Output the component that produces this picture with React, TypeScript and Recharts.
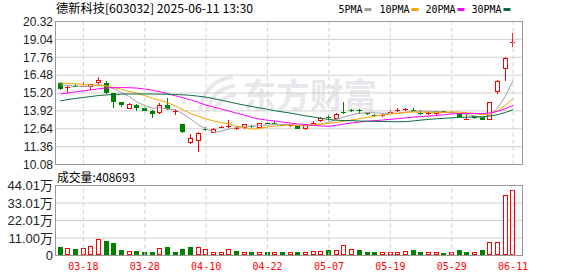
import React from 'react';
import { ComposedChart, Bar, Line, XAxis, YAxis, CartesianGrid, ReferenceLine } from 'recharts';

const dates = [
  '03-13', '03-14', '03-17', '03-18', '03-19', '03-20', '03-21', '03-24', '03-25', '03-26',
  '03-27', '03-28', '03-31', '04-01', '04-02', '04-03', '04-07', '04-08', '04-09', '04-10',
  '04-11', '04-14', '04-15', '04-16', '04-17', '04-18', '04-21', '04-22', '04-23', '04-24',
  '04-25', '04-28', '04-29', '04-30', '05-06', '05-07', '05-08', '05-09', '05-12', '05-13',
  '05-14', '05-15', '05-16', '05-19', '05-20', '05-21', '05-22', '05-23', '05-26', '05-27',
  '05-28', '05-29', '05-30', '06-03', '06-04', '06-05', '06-06', '06-09', '06-10', '06-11',
];

const opens = [
  15.95, 15.55, 15.7, 15.66, 15.62, 15.91, 15.95, 15.19, 14.55, 14.07,
  14.37, 14.14, 13.92, 13.78, 14.35, 13.85, 12.99, 11.61, 11.77, 12.63,
  12.33, 12.74, 12.76, 12.64, 12.66, 12.84, 12.68, 13.08, 13.06, 12.93,
  12.84, 12.87, 12.61, 12.98, 13.16, 13.47, 13.35, 13.86, 13.96, 13.95,
  13.74, 13.62, 13.6, 13.8, 13.94, 14.02, 14.0, 13.78, 13.69, 13.68,
  13.9, 13.78, 13.78, 13.33, 13.52, 13.47, 13.28, 15.3, 16.95, 18.82,
];
const highs = [
  16.02, 15.68, 15.84, 16.02, 15.88, 16.34, 16.05, 15.22, 14.58, 14.5,
  14.42, 14.18, 13.95, 14.48, 14.85, 14.07, 13.0, 12.28, 12.4, 12.75,
  12.66, 12.84, 13.28, 12.85, 13.0, 12.92, 13.08, 13.14, 13.16, 12.98,
  12.92, 12.9, 13.0, 13.2, 13.46, 13.64, 13.78, 14.58, 14.06, 14.08,
  13.8, 13.7, 13.79, 14.0, 14.1, 14.15, 14.12, 13.95, 13.82, 13.92,
  13.94, 13.9, 13.8, 13.7, 13.55, 13.5, 14.59, 16.1, 17.75, 19.49,
];
const lows = [
  15.4, 15.18, 15.62, 15.62, 15.42, 15.86, 15.12, 14.12, 14.22, 14.05,
  13.94, 13.92, 13.44, 13.72, 14.0, 13.66, 12.35, 11.58, 10.96, 12.48,
  12.3, 12.7, 12.72, 12.58, 12.64, 12.72, 12.66, 12.98, 12.95, 12.82,
  12.78, 12.6, 12.58, 12.95, 13.12, 13.22, 13.33, 13.68, 13.86, 13.7,
  13.6, 13.55, 13.5, 13.7, 13.82, 13.9, 13.82, 13.6, 13.64, 13.56,
  13.76, 13.74, 13.45, 13.31, 13.35, 13.24, 13.26, 15.12, 16.09, 18.49,
];
const closes = [
  15.5, 15.66, 15.64, 15.72, 15.86, 16.14, 15.22, 14.59, 14.33, 14.43,
  14.16, 13.94, 13.73, 14.37, 14.04, 13.89, 12.4, 11.97, 12.3, 12.6,
  12.63, 12.78, 12.86, 12.72, 12.97, 12.8, 13.04, 13.0, 13.02, 12.86,
  12.88, 12.63, 12.97, 13.04, 13.44, 13.43, 13.73, 13.74, 13.93, 13.92,
  13.7, 13.59, 13.63, 13.84, 13.98, 14.05, 13.97, 13.72, 13.74, 13.9,
  13.78, 13.81, 13.47, 13.36, 13.39, 13.26, 14.57, 16.07, 17.72, 18.86,
];

const ma5 = [
  15.78, 15.74, 15.7, 15.68, 15.68, 15.8, 15.72, 15.51, 15.23, 14.94,
  14.55, 14.29, 14.12, 14.13, 14.05, 13.99, 13.69, 13.33, 12.92, 12.63,
  12.38, 12.46, 12.63, 12.72, 12.79, 12.83, 12.88, 12.91, 12.97, 12.94,
  12.96, 12.88, 12.87, 12.88, 12.99, 13.1, 13.32, 13.48, 13.65, 13.75,
  13.8, 13.78, 13.75, 13.74, 13.75, 13.82, 13.89, 13.91, 13.89, 13.88,
  13.82, 13.79, 13.74, 13.66, 13.56, 13.46, 13.61, 14.13, 15.0, 16.1,
];
const ma10 = [
  15.92, 15.9, 15.86, 15.82, 15.78, 15.74, 15.7, 15.6, 15.46, 15.31,
  15.18, 15.01, 14.82, 14.68, 14.5, 14.27, 13.99, 13.73, 13.53, 13.34,
  13.19, 13.08, 12.98, 12.82, 12.71, 12.61, 12.67, 12.77, 12.85, 12.87,
  12.9, 12.88, 12.89, 12.93, 12.97, 13.03, 13.1, 13.18, 13.27, 13.37,
  13.45, 13.55, 13.62, 13.7, 13.75, 13.81, 13.84, 13.83, 13.82, 13.81,
  13.82, 13.84, 13.83, 13.78, 13.72, 13.64, 13.7, 13.94, 14.33, 14.83,
];
const ma20 = [
  15.14, 15.2, 15.28, 15.35, 15.43, 15.5, 15.56, 15.58, 15.59, 15.58,
  15.55, 15.48, 15.4, 15.28, 15.15, 15.0, 14.85, 14.7, 14.52, 14.33,
  14.19, 14.05, 13.9, 13.75, 13.61, 13.44, 13.33, 13.25, 13.19, 13.11,
  13.05, 12.98, 12.94, 12.88, 12.84, 12.82, 12.89, 12.98, 13.06, 13.12,
  13.18, 13.22, 13.26, 13.32, 13.36, 13.42, 13.47, 13.51, 13.55, 13.59,
  13.64, 13.7, 13.73, 13.74, 13.74, 13.73, 13.77, 13.89, 14.08, 14.32,
];
const ma30 = [
  14.64, 14.73, 14.81, 14.88, 14.95, 15.02, 15.06, 15.1, 15.12, 15.13,
  15.13, 15.13, 15.13, 15.12, 15.11, 15.09, 15.07, 15.03, 14.97, 14.9,
  14.8, 14.68, 14.56, 14.44, 14.33, 14.23, 14.13, 14.03, 13.93, 13.84,
  13.76, 13.66, 13.56, 13.48, 13.39, 13.3, 13.25, 13.23, 13.22, 13.19,
  13.18, 13.17, 13.16, 13.15, 13.14, 13.15, 13.2, 13.26, 13.31, 13.35,
  13.39, 13.42, 13.45, 13.47, 13.48, 13.49, 13.55, 13.65, 13.81, 14.0,
];

const volumes = [
  51000, 49000, 38000, 49000, 61000, 106000, 89000, 78000, 32000, 30000,
  30000, 25000, 25000, 49000, 51000, 25000, 44000, 51000, 55000, 42000,
  25000, 25000, 42000, 30000, 23000, 19000, 23000, 19000, 23000, 25000,
  19000, 19000, 25000, 30000, 30000, 32000, 36000, 68000, 42000, 32000,
  25000, 19000, 19000, 19000, 23000, 30000, 32000, 25000, 19000, 19000,
  13000, 19000, 32000, 19000, 19000, 32000, 87000, 87000, 381000, 408693,
];

const priceTicks = [10.08, 11.36, 12.64, 13.92, 15.2, 16.48, 17.76, 19.04, 20.32];
const volTicks = [0, 110025, 220050, 330075, 440100];
const volTickLabels = ['0', '11.00万', '22.01万', '33.01万', '44.01万'];
const dateTicks = ['03-18', '03-28', '04-10', '04-22', '05-07', '05-19', '05-29', '06-11'];

const series = [
  { key: 'ma5', name: '5PMA', color: '#a0a0a0' },
  { key: 'ma10', name: '10PMA', color: '#f5a300' },
  { key: 'ma20', name: '20PMA', color: '#ff00ff' },
  { key: 'ma30', name: '30PMA', color: '#0a6e3c' },
];
const legendX = [338.5, 379.5, 425.5, 471.5];

const RED = '#ff0000';
const GREEN = '#008000';
const GRID = '#d0d0d0';
const CJK = '"Noto Sans CJK SC", sans-serif';
const MONO = '"DejaVu Sans Mono", monospace';

const rows = dates.map((date, i) => ({
  date,
  open: opens[i],
  high: highs[i],
  low: lows[i],
  close: closes[i],
  range: [lows[i], highs[i]],
  ma5: ma5[i],
  ma10: ma10[i],
  ma20: ma20[i],
  ma30: ma30[i],
  vol: volumes[i],
  volUp: i === 0 ? closes[i] >= opens[i] : closes[i] >= closes[i - 1],
}));

function Candle(props: any) {
  const { x, y, width, height, payload } = props;
  if (!payload) return null;
  const top = height >= 0 ? y : y + height;
  const h = Math.abs(height);
  const { open, high, low, close } = payload;
  const span = high - low || 1;
  const py = (p: number) => top + ((high - p) / span) * h;
  const cx = Math.floor(x + width / 2) + 0.5;
  const up = close >= open;
  const color = up ? RED : GREEN;
  const y1 = Math.round(py(Math.max(open, close)));
  const y2 = Math.round(py(Math.min(open, close)));
  let body;
  if (y2 - y1 < 2) {
    body = <line x1={cx - 2.5} x2={cx + 2.5} y1={y1 + 0.5} y2={y1 + 0.5} stroke={color} />;
  } else if (up) {
    body = <rect x={cx - 2} y={y1 + 0.5} width={4} height={y2 - y1 - 1} fill="#fff" stroke={color} />;
  } else {
    body = <rect x={cx - 2.5} y={y1} width={5} height={y2 - y1} fill={color} />;
  }
  return (
    <g>
      <line x1={cx} x2={cx} y1={Math.round(top)} y2={Math.round(top + h)} stroke={color} />
      {body}
    </g>
  );
}

function VolBar(props: any) {
  const { x, y, width, height, payload } = props;
  if (!payload) return null;
  const cx = Math.floor(x + width / 2) + 0.5;
  const top = Math.round(y);
  const bottom = Math.floor(y + height);
  if (bottom - top < 1) return null;
  if (payload.volUp) {
    return <rect x={cx - 2} y={top + 0.5} width={4} height={Math.max(bottom - top - 1, 0)} fill="#fff" stroke={RED} />;
  }
  return <rect x={cx - 2.5} y={top} width={5} height={bottom - top} fill={GREEN} />;
}

function DateTick(props: any) {
  const { x, y, payload } = props;
  return (
    <text x={x} y={y + 6} textAnchor="middle" fill={RED} fontFamily={MONO} fontSize={10}>
      {payload.value}
    </text>
  );
}

const xPad = { left: 0.5, right: 5 };

export default function App() {
  return (
    <div style={{ position: 'absolute', left: 0, top: 0, width: 578, height: 276, background: '#fff' }}>
      <svg width={578} height={276} style={{ position: 'absolute', left: 0, top: 0 }}>
        <g fill="none" stroke="#e8e8ec" strokeWidth={4}>
          <path d="M200 110 Q205 80 233 77" />
          <path d="M207 111 Q213 88 235 86" />
          <path d="M214 111 Q220 96 236 95" />
        </g>
        <text x={243} y={108} fontSize={34} fontWeight={700} fill="#e8e8ec" fontFamily={CJK} textLength={134} lengthAdjust="spacingAndGlyphs">
          东方财富
        </text>
      </svg>

      <div style={{ position: 'absolute', left: 0, top: 0 }}>
        <ComposedChart width={578} height={171} data={rows} margin={{ top: 21.5, right: 56, bottom: 6.5, left: 0 }}>
          <CartesianGrid vertical={false} stroke={GRID} />
          <XAxis dataKey="date" hide padding={xPad} />
          <YAxis
            domain={[10.08, 20.32]}
            ticks={priceTicks}
            interval={0}
            width={56}
            axisLine={false}
            tickLine={false}
            tickSize={3}
            tickMargin={0}
            tickFormatter={(v: number) => v.toFixed(2)}
            tick={{ fill: '#222', fontSize: 12, fontFamily: '"Liberation Sans", Arial, sans-serif' }}
          />
          {dateTicks.map((d) => (
            <ReferenceLine key={d} x={d} stroke={GRID} strokeDasharray="4 3" />
          ))}
          <Bar dataKey="range" barSize={5} isAnimationActive={false} shape={(p: any) => <Candle {...p} />} />
          {series.map((s) => (
            <Line
              key={s.key}
              dataKey={s.key}
              name={s.name}
              stroke={s.color}
              strokeWidth={1}
              dot={false}
              type="linear"
              isAnimationActive={false}
            />
          ))}
        </ComposedChart>
      </div>

      <div style={{ position: 'absolute', left: 0, top: 170 }}>
        <ComposedChart width={578} height={106} data={rows} margin={{ top: 15.5, right: 56, bottom: 0.5, left: 0 }}>
          <CartesianGrid vertical={false} stroke={GRID} />
          <XAxis
            dataKey="date"
            ticks={dateTicks}
            interval={0}
            height={20}
            axisLine={false}
            tickLine={false}
            tickSize={6}
            tickMargin={2}
            padding={xPad}
            tick={<DateTick />}
          />
          <YAxis
            domain={[0, 440100]}
            ticks={volTicks}
            interval={0}
            width={56}
            axisLine={false}
            tickLine={false}
            tickSize={3}
            tickMargin={0}
            tickFormatter={(v: number) => volTickLabels[volTicks.indexOf(v)]}
            tick={{ fill: '#222', fontSize: 13, fontFamily: '"Liberation Sans", "Noto Sans CJK SC", sans-serif' }}
          />
          {dateTicks.map((d) => (
            <ReferenceLine key={d} x={d} stroke={GRID} strokeDasharray="4 3" />
          ))}
          <Bar dataKey="vol" barSize={5} isAnimationActive={false} shape={(p: any) => <VolBar {...p} />} />
        </ComposedChart>
      </div>

      <svg width={578} height={276} style={{ position: 'absolute', left: 0, top: 0, pointerEvents: 'none' }}>
        <text x={56} y={13} fontSize={12} fill="#000" fontFamily={CJK} textLength={197} lengthAdjust="spacingAndGlyphs">
          德新科技[603032] 2025-06-11 13:30
        </text>
        {series.map((s, i) => (
          <g key={s.key}>
            <text x={legendX[i]} y={13} fontSize={10} fill="#000" fontFamily={MONO}>
              {s.name}
            </text>
            <rect x={legendX[i] + s.name.length * 6 + 2} y={8} width={7} height={3} fill={s.color} />
          </g>
        ))}
        <text x={57} y={181.5} fontSize={12} fill="#000" fontFamily={CJK} textLength={78} lengthAdjust="spacingAndGlyphs">
          {`成交量:${volumes[volumes.length - 1]}`}
        </text>
        <rect x={55.5} y={21.5} width={467} height={143} fill="none" stroke="#999" />
        <rect x={55.5} y={185.5} width={467} height={70} fill="none" stroke="#999" />
      </svg>
    </div>
  );
}
